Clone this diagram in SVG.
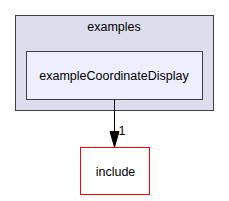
<svg xmlns="http://www.w3.org/2000/svg" width="229" height="201" viewBox="0 0 229 201">
<style>
text{font-family:"Liberation Sans",Arial,sans-serif;font-size:12.5px;fill:#000;text-anchor:middle}
</style>
<rect width="229" height="201" fill="#fff"/>
<g id="cluster_examples"><rect x="15.5" y="15.5" width="198" height="95" fill="#ddddee" stroke="#404040"/><text x="114" y="31">examples</text></g>
<g id="node_exampleCoordinateDisplay"><rect x="26.5" y="51.5" width="176" height="48" fill="#eeeeff" stroke="#404040"/><text x="114" y="80">exampleCoordinateDisplay</text></g>
<g id="node_include"><rect x="80.5" y="147.5" width="69" height="47" fill="#fff" stroke="#ff0000"/><text x="115.5" y="175.5">include</text></g>
<g id="edges"><path d="M114.5,99.5 L114.5,132" fill="none" stroke="#000"/><path d="M110,131.5 L119,131.5 L114.5,147 Z" fill="#000" stroke="#000"/><text x="118.5" y="135" style="text-anchor:start">1</text></g>
</svg>
